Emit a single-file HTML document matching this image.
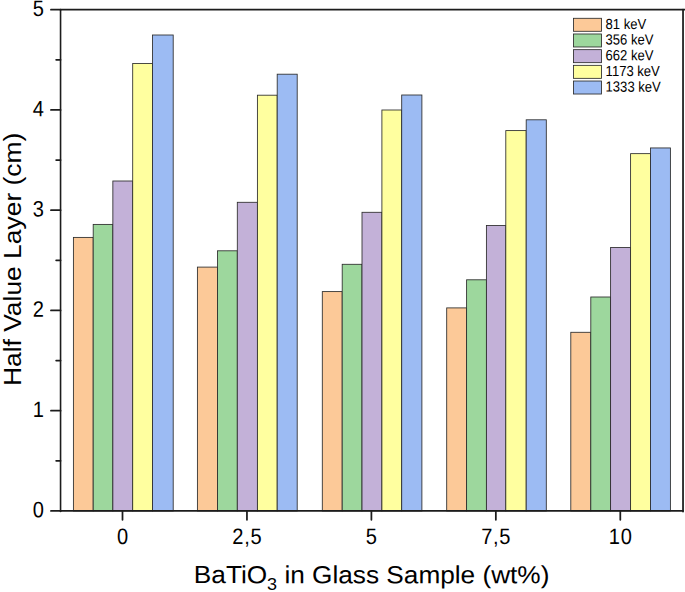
<!DOCTYPE html>
<html><head><meta charset="utf-8"><title>Half Value Layer</title>
<style>html,body{margin:0;padding:0;background:#fff}svg{display:block}text{font-family:"Liberation Sans",Arial,sans-serif;fill:#000}</style></head><body>
<svg width="685" height="592" viewBox="0 0 685 592">
<rect width="685" height="592" fill="#fff"/>
<rect x="73.40" y="237.40" width="19.80" height="273.57" fill="#FCC998" stroke="#2b2b2b" stroke-width="0.85"/>
<rect x="93.20" y="224.40" width="19.65" height="286.57" fill="#9DD79D" stroke="#2b2b2b" stroke-width="0.85"/>
<rect x="112.85" y="181.00" width="19.85" height="329.97" fill="#C3B1D8" stroke="#2b2b2b" stroke-width="0.85"/>
<rect x="132.70" y="63.50" width="19.80" height="447.47" fill="#FFFF9F" stroke="#2b2b2b" stroke-width="0.85"/>
<rect x="152.50" y="35.00" width="20.70" height="475.97" fill="#9CBBF3" stroke="#2b2b2b" stroke-width="0.85"/>
<rect x="197.40" y="267.10" width="20.10" height="243.87" fill="#FCC998" stroke="#2b2b2b" stroke-width="0.85"/>
<rect x="217.50" y="250.80" width="19.80" height="260.17" fill="#9DD79D" stroke="#2b2b2b" stroke-width="0.85"/>
<rect x="237.30" y="202.30" width="20.10" height="308.67" fill="#C3B1D8" stroke="#2b2b2b" stroke-width="0.85"/>
<rect x="257.40" y="95.20" width="19.80" height="415.77" fill="#FFFF9F" stroke="#2b2b2b" stroke-width="0.85"/>
<rect x="277.20" y="74.20" width="20.00" height="436.77" fill="#9CBBF3" stroke="#2b2b2b" stroke-width="0.85"/>
<rect x="322.30" y="291.60" width="19.90" height="219.37" fill="#FCC998" stroke="#2b2b2b" stroke-width="0.85"/>
<rect x="342.20" y="264.30" width="19.80" height="246.67" fill="#9DD79D" stroke="#2b2b2b" stroke-width="0.85"/>
<rect x="362.00" y="212.30" width="19.90" height="298.67" fill="#C3B1D8" stroke="#2b2b2b" stroke-width="0.85"/>
<rect x="381.90" y="110.00" width="19.80" height="400.97" fill="#FFFF9F" stroke="#2b2b2b" stroke-width="0.85"/>
<rect x="401.70" y="95.00" width="20.20" height="415.97" fill="#9CBBF3" stroke="#2b2b2b" stroke-width="0.85"/>
<rect x="446.70" y="307.90" width="19.90" height="203.07" fill="#FCC998" stroke="#2b2b2b" stroke-width="0.85"/>
<rect x="466.60" y="279.80" width="19.80" height="231.17" fill="#9DD79D" stroke="#2b2b2b" stroke-width="0.85"/>
<rect x="486.40" y="225.50" width="19.40" height="285.47" fill="#C3B1D8" stroke="#2b2b2b" stroke-width="0.85"/>
<rect x="505.80" y="130.60" width="20.40" height="380.37" fill="#FFFF9F" stroke="#2b2b2b" stroke-width="0.85"/>
<rect x="526.20" y="119.80" width="20.10" height="391.17" fill="#9CBBF3" stroke="#2b2b2b" stroke-width="0.85"/>
<rect x="570.80" y="332.30" width="20.00" height="178.67" fill="#FCC998" stroke="#2b2b2b" stroke-width="0.85"/>
<rect x="590.80" y="297.00" width="19.80" height="213.97" fill="#9DD79D" stroke="#2b2b2b" stroke-width="0.85"/>
<rect x="610.60" y="247.50" width="20.00" height="263.47" fill="#C3B1D8" stroke="#2b2b2b" stroke-width="0.85"/>
<rect x="630.60" y="153.65" width="19.90" height="357.32" fill="#FFFF9F" stroke="#2b2b2b" stroke-width="0.85"/>
<rect x="650.50" y="147.95" width="19.90" height="363.02" fill="#9CBBF3" stroke="#2b2b2b" stroke-width="0.85"/>
<g stroke="#1c1c1c" stroke-width="1.75" fill="none" stroke-linecap="round">
<line x1="60.55" y1="9.72" x2="687" y2="9.72"/>
<line x1="60.55" y1="9.72" x2="60.55" y2="511.47" stroke-width="1.6"/>
<line x1="60.55" y1="510.97" x2="683.03" y2="510.97"/>
<line x1="683.03" y1="9.72" x2="683.03" y2="511.57000000000005"/>
<line x1="50.95" y1="510.97" x2="60.55" y2="510.97"/>
<line x1="56.15" y1="460.85" x2="60.55" y2="460.85"/>
<line x1="50.95" y1="410.72" x2="60.55" y2="410.72"/>
<line x1="56.15" y1="360.60" x2="60.55" y2="360.60"/>
<line x1="50.95" y1="310.47" x2="60.55" y2="310.47"/>
<line x1="56.15" y1="260.35" x2="60.55" y2="260.35"/>
<line x1="50.95" y1="210.22" x2="60.55" y2="210.22"/>
<line x1="56.15" y1="160.10" x2="60.55" y2="160.10"/>
<line x1="50.95" y1="109.97" x2="60.55" y2="109.97"/>
<line x1="56.15" y1="59.85" x2="60.55" y2="59.85"/>
<line x1="50.95" y1="9.72" x2="60.55" y2="9.72"/>
<line x1="122.50" y1="510.97" x2="122.50" y2="519.87"/>
<line x1="246.95" y1="510.97" x2="246.95" y2="519.87"/>
<line x1="371.40" y1="510.97" x2="371.40" y2="519.87"/>
<line x1="495.85" y1="510.97" x2="495.85" y2="519.87"/>
<line x1="620.30" y1="510.97" x2="620.30" y2="519.87"/>
</g>
<text transform="translate(43.8,517.17) rotate(0.03) scale(0.9,1)" font-size="22.3" text-anchor="end">0</text>
<text transform="translate(43.8,416.92) rotate(0.03) scale(0.9,1)" font-size="22.3" text-anchor="end">1</text>
<text transform="translate(43.8,316.67) rotate(0.03) scale(0.9,1)" font-size="22.3" text-anchor="end">2</text>
<text transform="translate(43.8,216.42) rotate(0.03) scale(0.9,1)" font-size="22.3" text-anchor="end">3</text>
<text transform="translate(43.8,116.17) rotate(0.03) scale(0.9,1)" font-size="22.3" text-anchor="end">4</text>
<text transform="translate(43.8,15.92) rotate(0.03) scale(0.9,1)" font-size="22.3" text-anchor="end">5</text>
<text transform="translate(122.50,543.9) rotate(0.03) scale(0.9,1)" font-size="22.3" text-anchor="middle">0</text>
<text transform="translate(247.30,543.9) rotate(0.03) scale(0.9,1)" font-size="22.3" text-anchor="middle" letter-spacing="0.8">2,5</text>
<text transform="translate(371.40,543.9) rotate(0.03) scale(0.9,1)" font-size="22.3" text-anchor="middle">5</text>
<text transform="translate(496.20,543.9) rotate(0.03) scale(0.9,1)" font-size="22.3" text-anchor="middle" letter-spacing="0.8">7,5</text>
<text transform="translate(620.65,543.9) rotate(0.03) scale(0.9,1)" font-size="22.3" text-anchor="middle" letter-spacing="0.8">10</text>
<text transform="translate(371.6,583.2) rotate(0.03) scale(1.061,1)" font-size="24.7" text-anchor="middle">BaTiO<tspan font-size="17" dy="6.6">3</tspan><tspan dy="-6.6"> in Glass Sample (wt%)</tspan></text>
<text transform="translate(20.8,259.4) rotate(-90) scale(1.074,1)" font-size="24.6" text-anchor="middle">Half Value Layer (cm)</text>
<rect x="573.5" y="18.30" width="28" height="13" fill="#FCC998" stroke="#2b2b2b" stroke-width="0.85"/>
<text transform="translate(605.6,28.90) rotate(0.03) scale(0.895,1)" font-size="14.6">81 keV</text>
<rect x="573.5" y="33.98" width="28" height="13" fill="#9DD79D" stroke="#2b2b2b" stroke-width="0.85"/>
<text transform="translate(605.6,44.58) rotate(0.03) scale(0.895,1)" font-size="14.6">356 keV</text>
<rect x="573.5" y="49.66" width="28" height="13" fill="#C3B1D8" stroke="#2b2b2b" stroke-width="0.85"/>
<text transform="translate(605.6,60.26) rotate(0.03) scale(0.895,1)" font-size="14.6">662 keV</text>
<rect x="573.5" y="65.34" width="28" height="13" fill="#FFFF9F" stroke="#2b2b2b" stroke-width="0.85"/>
<text transform="translate(605.6,75.94) rotate(0.03) scale(0.895,1)" font-size="14.6">1173 keV</text>
<rect x="573.5" y="81.02" width="28" height="13" fill="#9CBBF3" stroke="#2b2b2b" stroke-width="0.85"/>
<text transform="translate(605.6,91.62) rotate(0.03) scale(0.895,1)" font-size="14.6">1333 keV</text>
</svg></body></html>
